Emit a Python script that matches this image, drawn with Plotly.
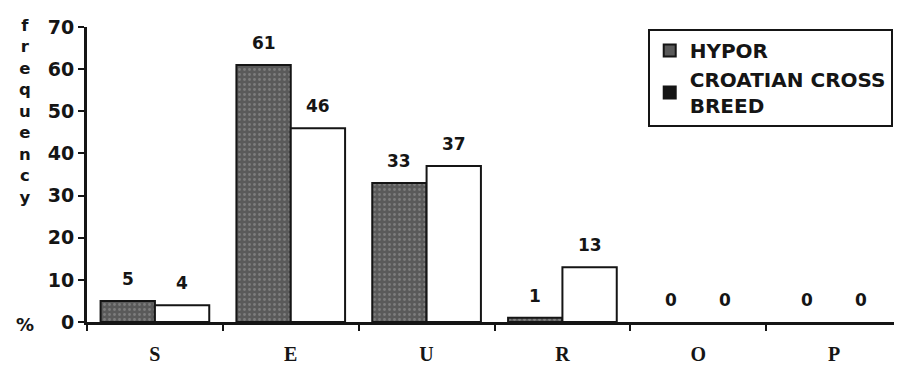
import plotly.graph_objects as go

categories = ["S", "E", "U", "R", "O", "P"]
hypor = [5, 61, 33, 1, 0, 0]
croatian = [4, 46, 37, 13, 0, 0]
y_ticks = [0, 10, 20, 30, 40, 50, 60, 70]
series_names = ["HYPOR", "CROATIAN CROSS<br>BREED"]

BOLD = "DejaVu Sans"
INK = "#151515"

fig = go.Figure()
fig.add_trace(go.Bar(
    x=categories, y=hypor, name=series_names[0], showlegend=False,
    marker=dict(color="#5a5a5a",
                line=dict(color=INK, width=[2 if v > 0 else 0 for v in hypor]),
                pattern=dict(shape=".", fgcolor="#a0a0a0", size=5, solidity=0.25)),
))
fig.add_trace(go.Bar(
    x=categories, y=croatian, name=series_names[1], showlegend=False,
    marker=dict(color="white",
                line=dict(color=INK, width=[2 if v > 0 else 0 for v in croatian])),
))
# legend entries
fig.add_trace(go.Scatter(
    x=[None], y=[None], mode="markers", name=series_names[0],
    marker=dict(symbol="square", size=12, color="#5a5a5a", line=dict(color=INK, width=2)),
))
fig.add_trace(go.Scatter(
    x=[None], y=[None], mode="markers", name=series_names[1],
    marker=dict(symbol="square", size=12, color=INK, line=dict(color=INK, width=1)),
))

# value labels above bars
for i, (h, c) in enumerate(zip(hypor, croatian)):
    for dx, v in ((-0.2, h), (0.2, c)):
        fig.add_annotation(x=i + dx, y=v, xref="x", yref="y", text=str(v), showarrow=False,
                           yanchor="bottom", yshift=10,
                           font=dict(family=BOLD, size=17, color=INK, weight="bold"))

fig.update_layout(
    width=902, height=373,
    margin=dict(l=79, r=8, t=17, b=59),
    paper_bgcolor="white", plot_bgcolor="white",
    barmode="group", bargap=0.2, bargroupgap=0.0,
    font=dict(family=BOLD, size=15, color=INK),
    legend=dict(x=0.688, y=0.993, xanchor="left", yanchor="top",
                bordercolor=INK, borderwidth=2, bgcolor="white",
                font=dict(family=BOLD, size=20, color=INK, weight="bold"),
                itemsizing="constant", itemwidth=30, tracegroupgap=2),
    xaxis=dict(showline=True, linecolor=INK, linewidth=3,
               ticks="outside", tickson="boundaries", ticklen=6, tickwidth=2, tickcolor=INK,
               tickfont=dict(family="Liberation Serif", size=20, color=INK, weight="bold"),
               ticklabelstandoff=12,
               showgrid=False, range=[-0.5, 5.5]),
    yaxis=dict(range=[0, 70], tickvals=y_ticks, showline=True, linecolor=INK, linewidth=3,
               ticks="outside", ticklen=6, tickwidth=2, tickcolor=INK,
               tickfont=dict(family=BOLD, size=19, color=INK, weight="bold"),
               showgrid=False, zeroline=False),
)

fig.add_annotation(text="f<br>r<br>e<br>q<br>u<br>e<br>n<br>c<br>y", xref="paper", yref="paper",
                   x=-0.076, y=1.045, xanchor="center", yanchor="top", showarrow=False,
                   font=dict(family=BOLD, size=16.5, color=INK, weight="bold"), align="center")
fig.add_annotation(text="%", xref="paper", yref="paper",
                   x=-0.076, y=-0.01, xanchor="center", yanchor="middle", showarrow=False,
                   font=dict(family=BOLD, size=18, color=INK, weight="bold"))

fig.write_html("out.html")
